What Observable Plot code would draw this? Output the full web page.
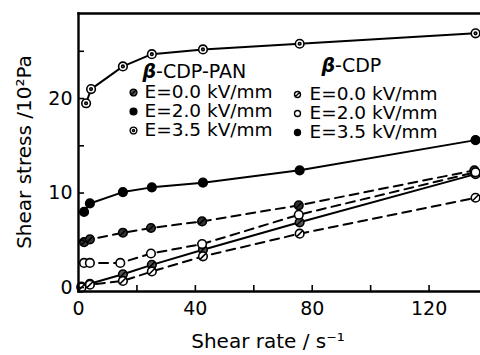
<!DOCTYPE html>
<html><head><meta charset="utf-8">
<script src="https://cdn.jsdelivr.net/npm/d3@7"></script>
<script src="https://cdn.jsdelivr.net/npm/@observablehq/plot@0.6"></script>
<style>
body{margin:0;background:#fff;}
#chart{position:relative;width:480px;height:355px;}
svg{font-family:"DejaVu Sans",sans-serif;}
</style></head><body><div id="chart"></div>
<script>
// ---- data ----
const panE35Rate = [2.6, 4.3, 15.2, 25.1, 42.6, 75.7, 135.9];
const panE35Stress = [19.5, 21.0, 23.4, 24.7, 25.2, 25.8, 26.9];
const panE20Rate = [1.9, 3.9, 15.2, 25.1, 42.6, 75.7, 135.9];
const panE20Stress = [8.0, 8.9, 10.1, 10.6, 11.1, 12.4, 15.6];
const panE00Rate = [1.0, 3.9, 15.2, 25.1, 42.6, 75.7, 135.9];
const panE00Stress = [0.1, 0.4, 1.4, 2.4, 4.0, 6.9, 12.0];
const cdpE35Rate = [1.9, 3.9, 15.2, 24.8, 42.3, 75.4, 135.5];
const cdpE35Stress = [4.8, 5.1, 5.8, 6.3, 7.0, 8.7, 12.4];
const cdpE20Rate = [1.9, 3.9, 14.3, 24.8, 42.3, 75.4, 135.9];
const cdpE20Stress = [2.6, 2.6, 2.6, 3.6, 4.6, 7.7, 12.2];
const cdpE00Rate = [1.0, 3.9, 15.2, 25.1, 42.6, 75.7, 135.9];
const cdpE00Stress = [0.0, 0.3, 0.7, 1.7, 3.3, 5.7, 9.5];
const xTicks = [0, 20, 40, 60, 80, 100, 120];
const xLabels = [0, 40, 80, 120];
const yTicks = [0, 5, 10, 15, 20, 25];
const yLabels = [0, 10, 20];
const legendPanTitle = "β-CDP-PAN";
const legendCdpTitle = "β-CDP";
const legendLabels = ["E=0.0 kV/mm", "E=2.0 kV/mm", "E=3.5 kV/mm"];

// ---- symbols ----
const slashCircle = {draw(ctx, size){const r=Math.sqrt(size/Math.PI);ctx.moveTo(r,0);ctx.arc(0,0,r,0,2*Math.PI);const k=r*0.75;ctx.moveTo(-k,k);ctx.lineTo(k,-k);}};
const dotCircle = {draw(ctx, size){const r=Math.sqrt(size/Math.PI);ctx.moveTo(r,0);ctx.arc(0,0,r,0,2*Math.PI);const q=r*0.3;ctx.moveTo(q,0);ctx.arc(0,0,q,0,2*Math.PI);}};

const seriesDefs = [
  {key:"pan35", rate:panE35Rate, stress:panE35Stress, dash:null, sym:dotCircle, fill:"white"},
  {key:"pan20", rate:panE20Rate, stress:panE20Stress, dash:null, sym:"circle", fill:"black"},
  {key:"pan00", rate:panE00Rate, stress:panE00Stress, dash:null, sym:slashCircle, fill:"#555"},
  {key:"cdp35", rate:cdpE35Rate, stress:cdpE35Stress, dash:"9,6", sym:slashCircle, fill:"#333"},
  {key:"cdp20", rate:cdpE20Rate, stress:cdpE20Stress, dash:"9,6", sym:"circle", fill:"white"},
  {key:"cdp00", rate:cdpE00Rate, stress:cdpE00Stress, dash:"9,6", sym:slashCircle, fill:"white"},
];

const marks = [];
for (const s of seriesDefs) {
  const data = s.rate.map((r,i)=>({x:r, y:s.stress[i]}));
  marks.push(Plot.line(data, {x:"x", y:"y", stroke:"black", strokeWidth:2, strokeDasharray:s.dash}));
}
for (const s of seriesDefs) {
  const data = s.rate.map((r,i)=>({x:r, y:s.stress[i]}));
  marks.push(Plot.dot(data, {x:"x", y:"y", r:4.3, symbol:s.sym, fill:s.fill, stroke:"black", strokeWidth:1.6}));
}

// legend
const panSyms = [{sym:slashCircle, fill:"#555"},{sym:"circle", fill:"black"},{sym:dotCircle, fill:"white"}];
const cdpSyms = [{sym:slashCircle, fill:"white"},{sym:"circle", fill:"white"},{sym:"circle", fill:"black"}];
const rowDy = [79, 98, 117];
marks.push(Plot.text([legendPanTitle], {text:d=>d, frameAnchor:"top-left", dx:64, dy:58, fontSize:19, textAnchor:"start", lineAnchor:"middle", fill:"black"}));
marks.push(Plot.text([legendCdpTitle], {text:d=>d, frameAnchor:"top-left", dx:243, dy:52, fontSize:19, textAnchor:"start", lineAnchor:"middle", fill:"black"}));
legendLabels.forEach((lab,i)=>{
  marks.push(Plot.dot([lab], {frameAnchor:"top-left", dx:55, dy:rowDy[i], r:3.4, symbol:panSyms[i].sym, fill:panSyms[i].fill, stroke:"black", strokeWidth:1.4}));
  marks.push(Plot.text([lab], {text:d=>d, frameAnchor:"top-left", dx:66, dy:rowDy[i], fontSize:18.5, textAnchor:"start", lineAnchor:"middle", fill:"black"}));
  marks.push(Plot.dot([lab], {frameAnchor:"top-left", dx:219, dy:rowDy[i]+2, r:3.0, symbol:cdpSyms[i].sym, fill:cdpSyms[i].fill, stroke:"black", strokeWidth:1.4}));
  marks.push(Plot.text([lab], {text:d=>d, frameAnchor:"top-left", dx:231, dy:rowDy[i]+2, fontSize:18.5, textAnchor:"start", lineAnchor:"middle", fill:"black"}));
});

// axes
marks.push(Plot.axisX({ticks:xTicks, tickSize:-6, tickFormat:()=>"", strokeWidth:1.6}));
marks.push(Plot.axisX({ticks:xLabels, tickSize:0, tickPadding:10, fontSize:19, label:null}));
marks.push(Plot.axisY({ticks:yTicks, tickSize:-6, tickFormat:()=>"", strokeWidth:1.6}));
marks.push(Plot.axisY({ticks:yLabels, tickSize:0, tickPadding:6, fontSize:19, label:null}));
marks.push(Plot.frame({anchor:"top", strokeWidth:2.4}));
marks.push(Plot.frame({anchor:"left", strokeWidth:2.4}));
marks.push(Plot.frame({anchor:"bottom", strokeWidth:2.4}));

const chart = Plot.plot({
  width:480, height:355,
  marginLeft:78, marginRight:0, marginTop:13, marginBottom:64,
  x:{domain:[0,137.6], label:null},
  y:{domain:[-0.42,29.0], label:null},
  style:{fontFamily:"DejaVu Sans, sans-serif", color:"black", background:"white", overflow:"visible"},
  marks
});
const div = document.getElementById("chart");
div.appendChild(chart);

// axis titles as real text in the svg
const svg = d3.select(chart);
svg.append("text").attr("x", 268).attr("y", 342).attr("text-anchor","middle").attr("dominant-baseline","middle")
  .attr("font-size",20).text("Shear rate / s⁻¹");
svg.append("text").attr("transform","translate(25,152) rotate(-90)").attr("text-anchor","middle").attr("dominant-baseline","middle")
  .attr("font-size",20).text("Shear stress /10²Pa");

// italic bold beta
svg.selectAll("text").each(function(){
  const t = d3.select(this);
  if (t.selectAll("tspan").size()===0) {
    const s = t.text();
    if (s.startsWith("β")) {
      t.text(null);
      t.append("tspan").attr("font-style","italic").attr("font-weight","bold").text("β");
      t.append("tspan").text(s.slice(1));
    }
  }
});
</script></body></html>
